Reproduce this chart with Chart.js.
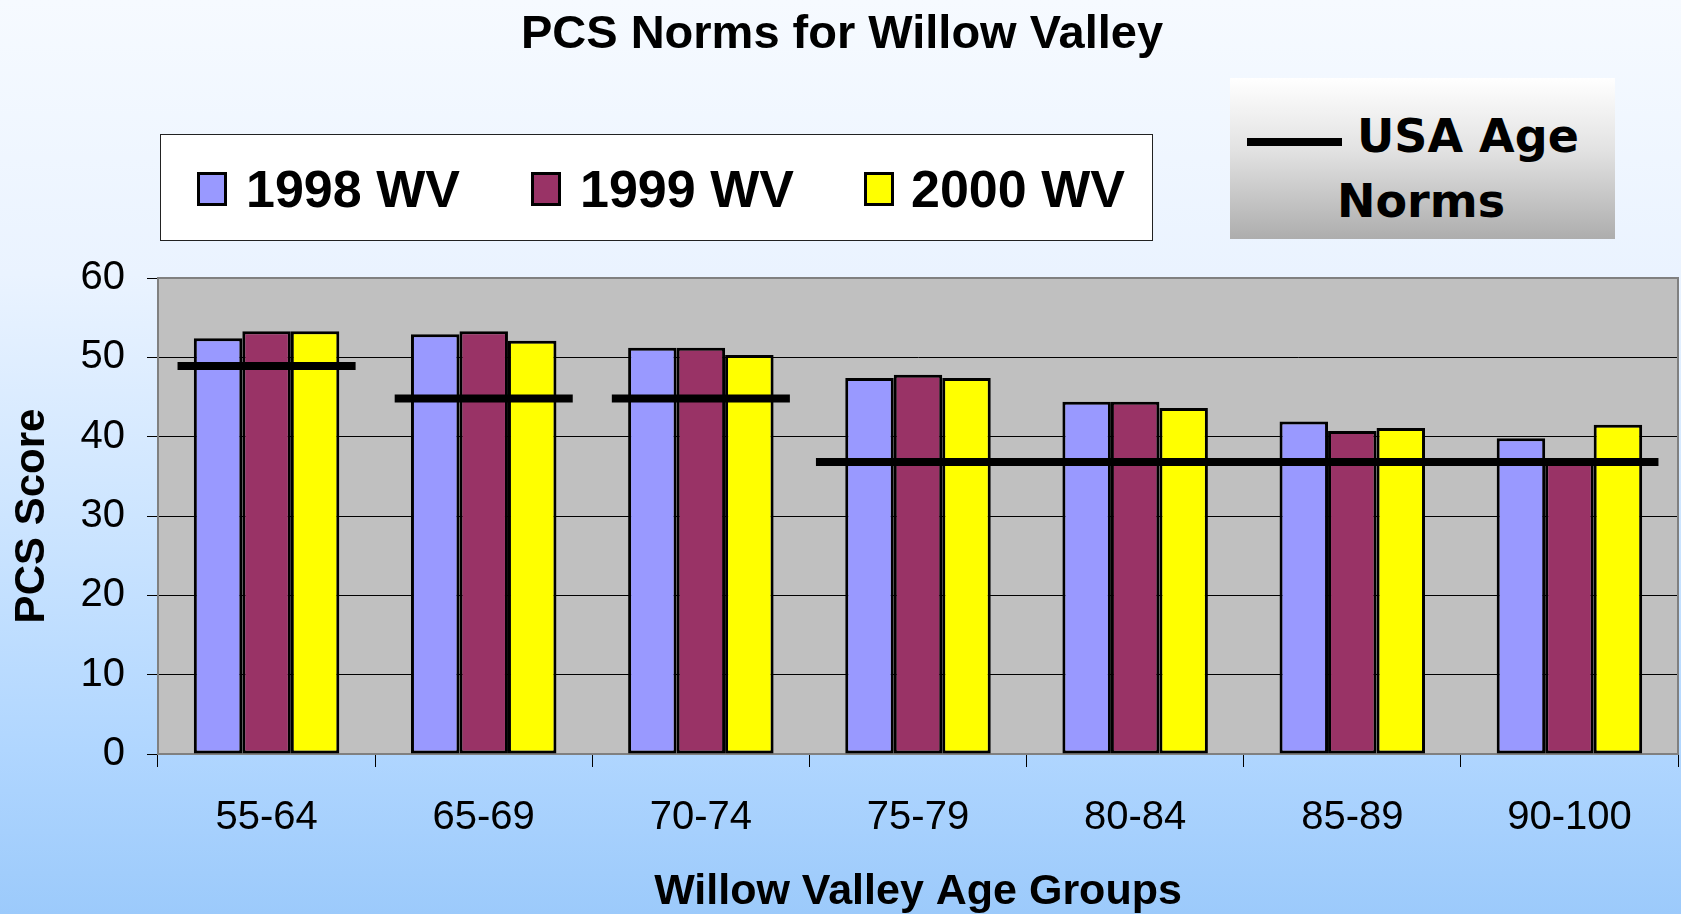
<!DOCTYPE html>
<html>
<head>
<meta charset="utf-8">
<script src="https://cdn.jsdelivr.net/npm/chart.js@4/dist/chart.umd.min.js"></script>
<style>
  html, body { margin: 0; padding: 0; width: 1681px; height: 914px; overflow: hidden; }
  body {
    position: relative;
    font-family: "Liberation Sans", Arial, sans-serif;
    background: linear-gradient(#f6faff 0%, #eaf3ff 30%, #c9e3ff 60%, #b0d6ff 82%, #9ccafb 100%);
  }
  #chart { position: absolute; left: 0; top: 0; }
  #title { position: absolute; left: 0; width: 1684px; top: 8px; text-align: center;
           font-weight: bold; font-size: 47px; line-height: 1; color: #000; }
  #legend { position: absolute; left: 160px; top: 134px; width: 993px; height: 107px;
            background: #fff; border: 1px solid #222; box-sizing: border-box; }
  .item { position: absolute; top: 28px; font-weight: bold; font-size: 52px; line-height: 1; }
  .sw { position: absolute; top: 37px; width: 24px; height: 28px; border: 3px solid #000; }
  #usa { position: absolute; left: 1230px; top: 78px; width: 385px; height: 161px;
         background: linear-gradient(#ffffff 0%, #e2e2e2 45%, #adadad 100%); }
  #usa .t { position: absolute; font-family: "DejaVu Sans", Verdana, sans-serif; font-weight: bold;
            font-size: 46px; line-height: 1; color: #000; white-space: nowrap; }
  #usa .ln { position: absolute; left: 17px; top: 60px; width: 95px; height: 8px; background: #000; }
</style>
</head>
<body>
<canvas id="chart" width="1681" height="914"></canvas>
<div id="title">PCS Norms for Willow Valley</div>
<div id="legend">
  <div class="sw" style="left:36px;background:#9999ff"></div><div class="item" style="left:85px">1998 WV</div>
  <div class="sw" style="left:370px;background:#993366"></div><div class="item" style="left:419px">1999 WV</div>
  <div class="sw" style="left:703px;background:#ffff00"></div><div class="item" style="left:750px">2000 WV</div>
</div>
<div id="usa">
  <div class="ln"></div>
  <div class="t" style="left:127px;top:35px">USA Age</div>
  <div class="t" style="left:107px;top:100px">Norms</div>
</div>
<script>
// ─── DATA ─────────────────────────────────────────────────────────────────────
const categories = ['55-64', '65-69', '70-74', '75-79', '80-84', '85-89', '90-100'];
const wv1998 = [52.4, 52.9, 51.2, 47.4, 44.4, 41.9, 39.8];
const wv1999 = [53.3, 53.3, 51.2, 47.8, 44.4, 40.7, 37.3];
const wv2000 = [53.3, 52.1, 50.3, 47.4, 43.6, 41.1, 41.5];
// USA age norms: one value per run of age groups (first to last category index)
const normValues = [48.9, 44.8, 44.8, 36.8];
const normFrom = [0, 1, 2, 3];
const normTo = [0, 1, 2, 6];
const yTicks = [0, 10, 20, 30, 40, 50, 60];

const FONT = '"Liberation Sans", Arial, sans-serif';

// ─── PLUGINS ──────────────────────────────────────────────────────────────────
const plotBack = {
  id: 'plotBack',
  beforeDraw(chart) {
    const a = chart.chartArea, ctx = chart.ctx;
    ctx.save();
    ctx.fillStyle = '#c0c0c0';
    ctx.fillRect(a.left, a.top, a.right - a.left, a.bottom - a.top);
    ctx.restore();
  },
  beforeDatasetsDraw(chart) {
    const a = chart.chartArea, ctx = chart.ctx;
    ctx.save();
    ctx.strokeStyle = '#808080';
    ctx.lineWidth = 2;
    ctx.strokeRect(a.left, a.top, a.right - a.left, a.bottom - a.top);
    ctx.restore();
  }
};

const normLines = {
  id: 'normLines',
  afterDatasetsDraw(chart) {
    const x = chart.scales.x, y = chart.scales.y, ctx = chart.ctx;
    const step = x.getPixelForValue(1) - x.getPixelForValue(0);
    ctx.save();
    ctx.strokeStyle = '#000';
    ctx.lineWidth = 8;
    normValues.forEach((v, i) => {
      const py = y.getPixelForValue(v);
      const left = normTo[i] > normFrom[i] ? 0.47 : 0.41;
      ctx.beginPath();
      ctx.moveTo(x.getPixelForValue(normFrom[i]) - step * left, py);
      ctx.lineTo(x.getPixelForValue(normTo[i]) + step * 0.41, py);
      ctx.stroke();
    });
    ctx.restore();
  }
};

// ─── CHART ────────────────────────────────────────────────────────────────────
const barStyle = { borderColor: '#000', borderWidth: 3, borderSkipped: false, categoryPercentage: 0.67, barPercentage: 1.0 };

new Chart(document.getElementById('chart'), {
  type: 'bar',
  data: {
    labels: categories,
    datasets: [
      { label: '1998 WV', data: wv1998, backgroundColor: '#9999ff', ...barStyle },
      { label: '1999 WV', data: wv1999, backgroundColor: '#993366', ...barStyle },
      { label: '2000 WV', data: wv2000, backgroundColor: '#ffff00', ...barStyle }
    ]
  },
  options: {
    responsive: false,
    animation: false,
    devicePixelRatio: 1,
    layout: { padding: { top: 278, right: 3, bottom: 0, left: 0 } },
    plugins: { legend: { display: false }, tooltip: { enabled: false } },
    scales: {
      x: {
        grid: { offset: true, drawOnChartArea: false, drawTicks: true, tickLength: 13, color: '#000', lineWidth: 1 },
        border: { color: '#555', width: 2 },
        ticks: { color: '#000', font: { size: 40, family: FONT }, padding: 27, maxRotation: 0, autoSkip: false },
        title: { display: true, text: 'Willow Valley Age Groups', color: '#000',
                 font: { size: 43, weight: 'bold', family: FONT, lineHeight: 1 }, padding: { top: 0, bottom: 0 } },
        afterFit(s) { s.height = 160; }
      },
      y: {
        min: 0, max: 60,
        afterBuildTicks(s) { s.ticks = yTicks.map(v => ({ value: v })); },
        grid: { color: '#000', lineWidth: 1, tickLength: 11 },
        border: { color: '#555', width: 2 },
        ticks: { color: '#000', font: { size: 40, family: FONT }, padding: 22 },
        title: { display: true, text: 'PCS Score', color: '#000',
                 font: { size: 42, weight: 'bold', family: FONT }, padding: { top: 7, bottom: 0 } },
        afterFit(s) { s.width = 158; }
      }
    }
  },
  plugins: [plotBack, normLines]
});
</script>
</body>
</html>
